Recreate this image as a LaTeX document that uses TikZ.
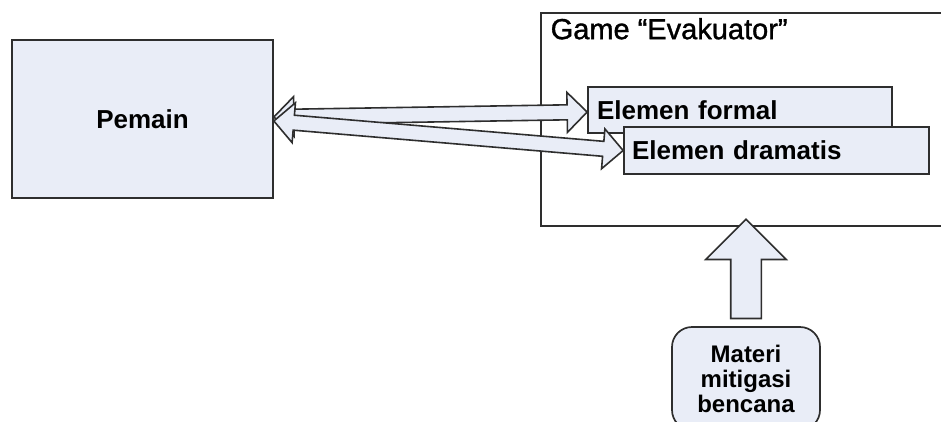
\documentclass[tikz,border=0pt]{standalone}
\usepackage{fontspec}
\setmainfont{Liberation Sans}
\newfontfamily\titlefont[FakeBold=1.2]{Liberation Sans}
\usetikzlibrary{calc,shapes.arrows}

\definecolor{boxfill}{HTML}{E9EDF7}
\definecolor{linec}{HTML}{2E2E2E}

% fat two-headed block arrow between two named points:
% head length/half width 20pt, shaft half width 7.5pt
\newcommand\twowaylink[2]{%
  \draw[blockarrow] (#1)
    -- ($(#1)!20pt!(#2)!20pt!90:(#2)$) -- ($(#1)!20pt!(#2)!7.5pt!90:(#2)$)
    -- ($(#2)!20pt!(#1)!7.5pt!-90:(#1)$) -- ($(#2)!20pt!(#1)!20pt!-90:(#1)$)
    -- (#2)
    -- ($(#2)!20pt!(#1)!20pt!90:(#1)$) -- ($(#2)!20pt!(#1)!7.5pt!90:(#1)$)
    -- ($(#1)!20pt!(#2)!7.5pt!-90:(#2)$) -- ($(#1)!20pt!(#2)!20pt!-90:(#2)$)
    -- cycle;}

% fat one-headed block arrow laid between two points
\newcommand\onewaylink[2]{%
  \path let \p1=($(#2)-(#1)$), \n1={atan2(\y1,\x1)}, \n2={veclen(\x1,\y1)} in
    node[oneway, rotate=\n1, minimum height=\n2] at ($(#1)!0.5!(#2)$) {};}

\tikzset{
  box/.style={draw=linec, line width=1.7pt, fill=boxfill, rectangle, inner sep=0pt},
  label/.style={font=\bfseries\fontsize{26}{30}\selectfont},
  blockarrow/.style={draw=linec, fill=boxfill, line width=1.6pt, line join=miter},
  oneway/.style={single arrow, draw=linec, fill=boxfill, line width=1.6pt,
    inner sep=14.5pt, single arrow head extend=25pt, single arrow tip angle=90},
}

\begin{document}
\begin{tikzpicture}[x=1pt,y=-1pt]
\useasboundingbox (0,0) rectangle (941,421);
\clip (0,0) rectangle (941,421);
\fill[white] (0,0) rectangle (941,421);

% player
\node[box, minimum width=261pt, minimum height=158pt, label] (pemain) at (142.5,119) {Pemain};

% game frame with its two elements
\node[draw=linec, line width=1.7pt, fill=white, minimum width=414pt, minimum height=213pt] (game) at (748,119.5) {};
\node[anchor=base west, font=\titlefont\fontsize{29}{33}\selectfont] (title)
  at ([xshift=7pt,yshift=-27pt]game.north west) {Game “Evakuator”};

\node[box, label, text width=286pt, inner xsep=9pt, align=left, minimum height=46pt] (formal)
  at (740,110) {Elemen formal};
\node[box, label, text width=289pt, inner xsep=8pt, align=left, minimum height=47pt] (dramatis)
  at (776.5,150.5) {Elemen dramatis};

% source material
\node[draw=linec, line width=1.7pt, fill=boxfill, rounded corners=20pt,
  minimum width=148pt, minimum height=103pt, align=center,
  font=\bfseries\fontsize{24}{25}\selectfont] (materi) at (746,378.5)
  {Materi\\mitigasi\\bencana};

% connector ends
\coordinate (pf) at ([yshift=2pt]pemain.east);
\coordinate (pd) at ([yshift=-2pt]pemain.east);
\coordinate (ff) at ([yshift=-2pt]formal.west);
\coordinate (gm) at (materi.north |- game.south);

% connectors
\twowaylink{pf}{ff}
\twowaylink{pd}{dramatis.west}
\onewaylink{materi.north}{gm}
\end{tikzpicture}
\end{document}
